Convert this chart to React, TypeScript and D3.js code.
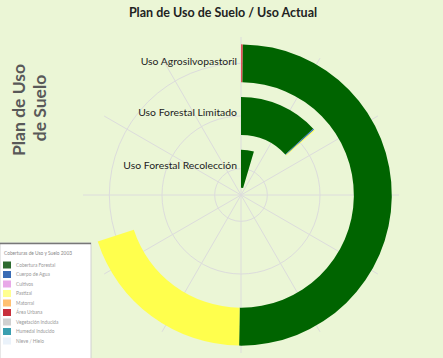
import React from "react";
import * as d3 from "d3";

// categorías (anillos, de afuera hacia adentro)
const usos = ["Uso Agrosilvopastoril", "Uso Forestal Limitado", "Uso Forestal Recolección"];

// porcentajes de la superficie (vuelta completa = 100)
const areaUrbana = [0.2, 0, 0];
const coberturaForestal = [50, 13.2, 4.6];
const cuerpoAgua = [0, 0.2, 0];
const pastizal = [19.8, 0.15, 0];

const seriesKeys = ["areaUrbana", "coberturaForestal", "cuerpoAgua", "pastizal"];
const seriesColors = ["#e0505a", "#006400", "#2f6fc0", "#ffff4d"];

const legendTitle = "Coberturas de Uso y Suelo 2003";
const legendLabels = [
  "Cobertura Forestal",
  "Cuerpo de Agua",
  "Cultivos",
  "Pastizal",
  "Matorral",
  "Área Urbana",
  "Vegetación Inducida",
  "Humedal Inducido",
  "Nieve / Hielo",
];
const legendColors = ["#2e6b30", "#3a6cb5", "#e8a8e8", "#ffff90", "#ffc070", "#c8303c", "#d0d0d0", "#3a9fb0", "#eaf2fa"];

const W = 443;
const H = 358;
const cx = 241;
const cy = 195;
const maxR = 158;
const font = "Lato, 'Open Sans', sans-serif";

export default function App() {
  const rows = usos.map((u, i) => ({
    uso: u,
    areaUrbana: areaUrbana[i],
    coberturaForestal: coberturaForestal[i],
    cuerpoAgua: cuerpoAgua[i],
    pastizal: pastizal[i],
  }));
  const stacked = d3.stack<any>().keys(seriesKeys)(rows);

  // radio: banda por uso (interior = Recolección)
  const r = d3
    .scaleBand<string>()
    .domain([...usos].reverse())
    .range([0, maxR])
    .paddingInner(0.28)
    .paddingOuter(0.14);
  const bw = r.bandwidth();

  const a = d3.scaleLinear().domain([0, 100]).range([0, 2 * Math.PI]);
  const arc = d3.arc<any>();

  const spokes = d3.range(0, 360, 30);

  return (
    <svg width={W} height={H} style={{ position: "absolute", left: 0, top: 0, display: "block" }}>
      <rect x={0} y={0} width={W} height={H} fill="#ebf6d6" />
      <text x={223} y={17} textAnchor="middle" fontFamily={font} fontWeight="bold" fontSize={12.5} fill="#222">
        Plan de Uso de Suelo / Uso Actual
      </text>

      <g transform="rotate(-90)" fontFamily={font} fontWeight="bold" fontSize={17.5} fill="#595959" textAnchor="middle">
        <text x={-110} y={25}>Plan de Uso</text>
        <text x={-108} y={46}>de Suelo</text>
      </g>

      <g transform={`translate(${cx},${cy})`}>
        {usos.map((u) => (
          <circle key={u} r={r(u)! + bw / 2} fill="none" stroke="#dcdcdc" strokeWidth={1} />
        ))}
        {spokes.map((d) => {
          const t = (d * Math.PI) / 180;
          return (
            <line key={d} x1={0} y1={0} x2={maxR * Math.sin(t)} y2={-maxR * Math.cos(t)} stroke="#dcdcdc" strokeWidth={1} />
          );
        })}
        {stacked.map((s, si) =>
          s.map((d, i) => {
            if (d[1] - d[0] <= 0) return null;
            const r0 = r(usos[i])!;
            return (
              <path
                key={`${si}-${i}`}
                d={arc({ innerRadius: r0, outerRadius: r0 + bw, startAngle: a(d[0]), endAngle: a(d[1]) }) as string}
                fill={seriesColors[si]}
              />
            );
          })
        )}
        {usos.map((u, i) => (
          <text
            key={u}
            x={-4}
            y={-(r(u)! + bw / 2) + (i === 0 ? 2 : 0)}
            textAnchor="end"
            fontFamily={font}
            fontSize={10.4}
            fill="#222"
          >
            {u}
          </text>
        ))}
      </g>

      <g>
        <rect x={0} y={243} width={91} height={120} fill="#fff" stroke="#d0d0d0" />
        <line x1={0} x2={91} y1={243.5} y2={243.5} stroke="#777" strokeWidth={1.5} />
        <text x={4} y={255} fontFamily={font} fontSize={4.8} fill="#888">
          {legendTitle}
        </text>
        {legendLabels.map((l, i) => (
          <g key={l} transform={`translate(0,${265 + i * 9.5})`}>
            <rect x={3} y={-3.5} width={8} height={7} fill={legendColors[i]} />
            <text x={16} y={1.7} fontFamily={font} fontSize={4.8} fill="#999">
              {l}
            </text>
          </g>
        ))}
      </g>
    </svg>
  );
}
